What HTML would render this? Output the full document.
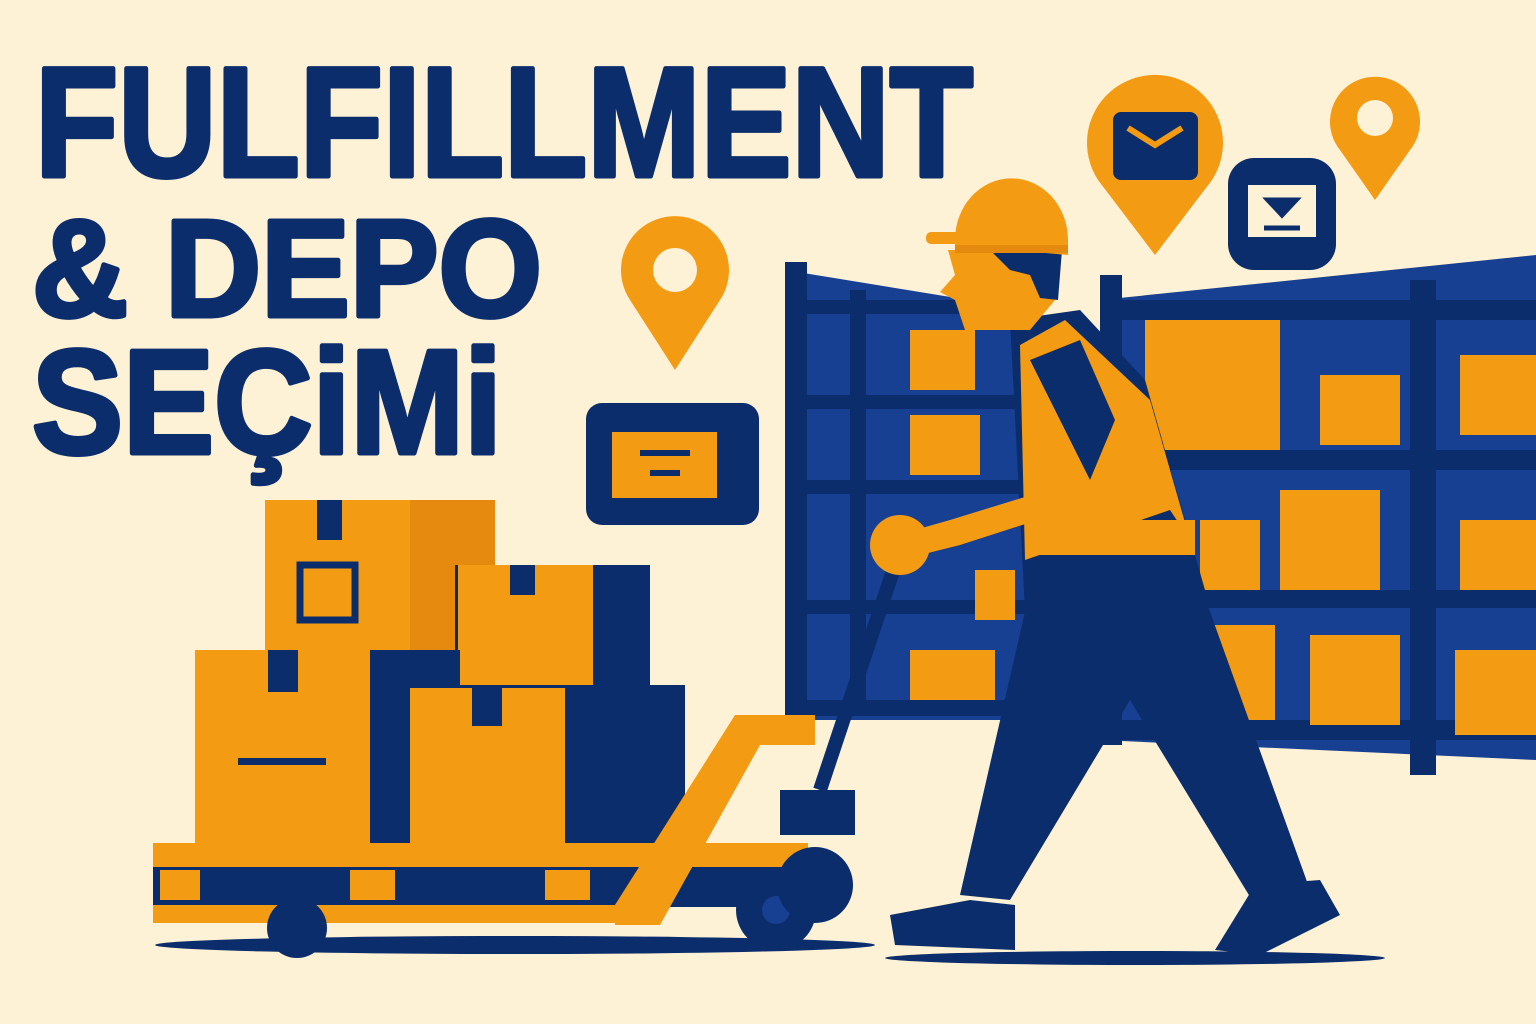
<!DOCTYPE html>
<html><head><meta charset="utf-8"><style>
html,body{margin:0;padding:0;background:#fdf1d6;}
svg{display:block}
text{font-family:"Liberation Sans","DejaVu Sans",sans-serif;font-weight:bold;fill:#0c2d6b;stroke:#0c2d6b;stroke-width:5;stroke-linejoin:round}
</style></head><body>
<svg width="1536" height="1024" viewBox="0 0 1536 1024">
<rect width="1536" height="1024" fill="#fdf1d6"/>
<g>
<text x="35" y="176" font-size="156" textLength="938" lengthAdjust="spacingAndGlyphs">FULFILLMENT</text>
<text x="32" y="316" font-size="138" textLength="510" lengthAdjust="spacingAndGlyphs">&amp; DEPO</text>
<text x="32" y="453" font-size="148" textLength="470" lengthAdjust="spacingAndGlyphs">SEÇiMi</text>
</g>
<g>
<polygon points="1100,300 1536,255 1536,760 1100,740" fill="#173f92"/>
<rect x="1100" y="275" width="22" height="470" fill="#0c2d6b"/>
<rect x="1410" y="280" width="26" height="495" fill="#0c2d6b"/>
<rect x="1100" y="300" width="436" height="20" fill="#0c2d6b"/>
<rect x="1100" y="450" width="436" height="20" fill="#0c2d6b"/>
<rect x="1100" y="590" width="436" height="18" fill="#0c2d6b"/>
<rect x="1100" y="720" width="436" height="20" fill="#0c2d6b"/>
<rect x="1145" y="320" width="135" height="130" fill="#f49b14"/>
<rect x="1320" y="375" width="80" height="70" fill="#f49b14"/>
<rect x="1460" y="355" width="76" height="80" fill="#f49b14"/>
<rect x="1200" y="520" width="60" height="70" fill="#f49b14"/>
<rect x="1280" y="490" width="100" height="100" fill="#f49b14"/>
<rect x="1460" y="520" width="76" height="70" fill="#f49b14"/>
<rect x="1205" y="625" width="70" height="95" fill="#f49b14"/>
<rect x="1310" y="635" width="90" height="90" fill="#f49b14"/>
<rect x="1455" y="650" width="81" height="85" fill="#f49b14"/>
</g>
<g>
<polygon points="785,270 1030,310 1030,720 785,720" fill="#173f92"/>
<rect x="785" y="262" width="22" height="458" fill="#0c2d6b"/>
<rect x="850" y="290" width="16" height="420" fill="#0c2d6b"/>
<rect x="785" y="300" width="245" height="14" fill="#0c2d6b"/>
<rect x="785" y="395" width="245" height="14" fill="#0c2d6b"/>
<rect x="785" y="480" width="245" height="14" fill="#0c2d6b"/>
<rect x="785" y="600" width="245" height="14" fill="#0c2d6b"/>
<rect x="785" y="700" width="245" height="16" fill="#0c2d6b"/>
<rect x="910" y="330" width="65" height="60" fill="#f49b14"/>
<rect x="910" y="415" width="70" height="60" fill="#f49b14"/>
<rect x="910" y="650" width="85" height="50" fill="#f49b14"/>
<rect x="975" y="570" width="40" height="50" fill="#f49b14"/>
</g>
<g>
<path d="M675,370 L630,300 A54,54 0 1 1 720,300 Z" fill="#f49b14"/>
<circle cx="675" cy="270" r="22" fill="#fdf1d6"/>
</g>
<g>
<path d="M1155,255 L1098,180 A68,68 0 1 1 1212,180 Z" fill="#f49b14"/>
<rect x="1113" y="112" width="85" height="68" rx="8" fill="#0c2d6b"/>
<path d="M1128,128 L1155,145 L1182,128" stroke="#f49b14" stroke-width="6" fill="none"/>
</g>
<g>
<path d="M1375,200 L1340,150 A45,45 0 1 1 1410,150 Z" fill="#f49b14"/>
<circle cx="1375" cy="118" r="18" fill="#fdf1d6"/>
</g>
<g>
<rect x="1228" y="158" width="108" height="112" rx="26" fill="#0c2d6b"/>
<rect x="1248" y="185" width="68" height="52" fill="#fdf1d6"/>
<path d="M1268,200 L1282,215 L1296,200Z M1264,228 h36" stroke="#0c2d6b" stroke-width="5" fill="#0c2d6b"/>
</g>
<g>
<rect x="586" y="403" width="173" height="122" rx="16" fill="#0c2d6b"/>
<rect x="612" y="432" width="105" height="66" fill="#f49b14"/>
<rect x="640" y="450" width="50" height="6" fill="#0c2d6b"/>
<rect x="650" y="470" width="30" height="6" fill="#0c2d6b"/>
</g>
<g>
<rect x="265" y="500" width="230" height="150" fill="#e58a0e"/>
<rect x="265" y="500" width="145" height="150" fill="#f49b14"/>
<rect x="317" y="500" width="25" height="40" fill="#0c2d6b"/>
<rect x="300" y="565" width="55" height="55" fill="none" stroke="#0c2d6b" stroke-width="7"/>
<rect x="455" y="565" width="195" height="120" fill="#0c2d6b"/>
<rect x="458" y="565" width="135" height="120" fill="#f49b14"/>
<rect x="510" y="565" width="25" height="30" fill="#0c2d6b"/>
<rect x="195" y="650" width="265" height="195" fill="#0c2d6b"/>
<rect x="195" y="650" width="175" height="195" fill="#f49b14"/>
<rect x="268" y="650" width="30" height="42" fill="#0c2d6b"/>
<rect x="238" y="758" width="88" height="7" fill="#0c2d6b"/>
<rect x="405" y="685" width="280" height="160" fill="#0c2d6b"/>
<rect x="410" y="688" width="155" height="157" fill="#f49b14"/>
<rect x="472" y="688" width="30" height="38" fill="#0c2d6b"/>
</g>
<g>
<rect x="153" y="843" width="655" height="24" fill="#f49b14"/>
<rect x="153" y="867" width="655" height="40" fill="#0c2d6b"/>
<rect x="160" y="870" width="40" height="30" fill="#f49b14"/>
<rect x="350" y="870" width="45" height="30" fill="#f49b14"/>
<rect x="545" y="870" width="45" height="30" fill="#f49b14"/>
<rect x="153" y="905" width="480" height="18" fill="#f49b14"/>
<polygon points="615,905 735,715 815,715 815,745 760,745 660,925 615,925" fill="#f49b14"/>
<circle cx="297" cy="928" r="30" fill="#0c2d6b"/>
<circle cx="776" cy="910" r="40" fill="#0c2d6b"/>
<circle cx="776" cy="910" r="14" fill="#173f92"/>
<circle cx="815" cy="885" r="38" fill="#0c2d6b"/>
<rect x="780" y="790" width="75" height="45" fill="#0c2d6b"/>
<line x1="820" y1="790" x2="900" y2="550" stroke="#0c2d6b" stroke-width="14"/>
<ellipse cx="515" cy="945" rx="360" ry="9" fill="#0c2d6b"/>
</g>
<g>
<ellipse cx="1135" cy="958" rx="250" ry="7" fill="#0c2d6b"/>
<polygon points="1030,590 1195,570 1310,890 1255,905 1130,700 1010,900 960,895" fill="#0c2d6b"/>
<polygon points="890,915 970,900 1015,905 1015,950 895,945" fill="#0c2d6b"/>
<polygon points="1255,885 1320,880 1340,915 1260,955 1215,950" fill="#0c2d6b"/>
<polygon points="1010,320 1080,310 1145,380 1205,590 1025,610" fill="#0c2d6b"/>
<polygon points="1020,345 1065,320 1150,400 1190,540 1170,510 1025,560" fill="#f49b14"/>
<rect x="1025" y="520" width="170" height="35" fill="#f49b14"/>
<polygon points="1030,360 1080,340 1115,420 1090,480" fill="#0c2d6b"/>
<polygon points="1080,480 1100,500 960,545 900,560 880,540 950,520" fill="#f49b14"/>
<circle cx="900" cy="545" r="30" fill="#f49b14"/>
<polygon points="948,250 1060,250 1055,300 1030,330 965,330 955,300 940,292 955,275" fill="#f49b14"/>
<polygon points="990,250 1062,250 1058,300 1040,298 1030,275 1010,270" fill="#0c2d6b"/>
<path d="M955,240 A55,60 0 0 1 1068,240 L1068,255 L955,245Z" fill="#f49b14"/>
<rect x="926" y="232" width="40" height="12" rx="5" fill="#f49b14"/>
<rect x="955" y="245" width="113" height="8" fill="#e58a0e"/>
</g>
</svg>
</body></html>
